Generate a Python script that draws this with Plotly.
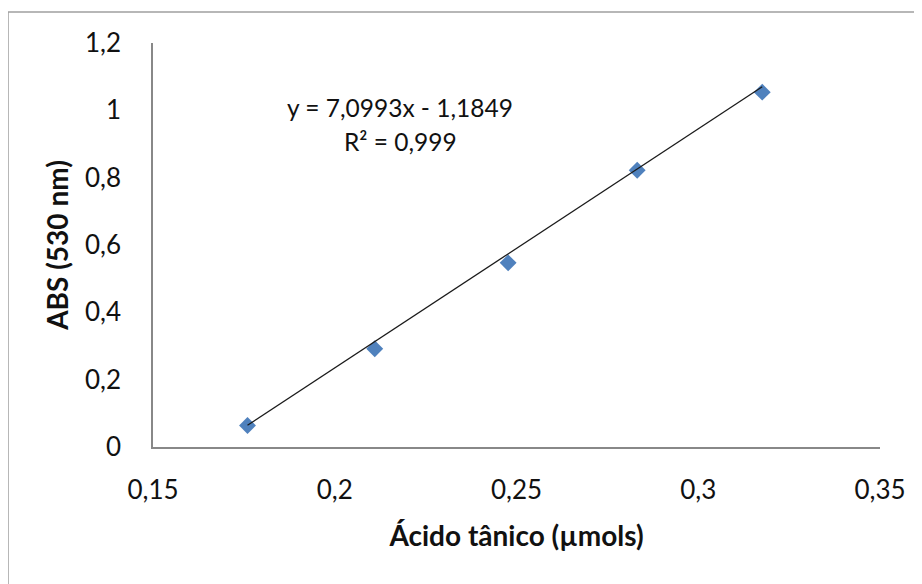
import plotly.graph_objects as go

# Data
acido_tanico = [0.176, 0.211, 0.2477, 0.2832, 0.3176]
absorbancia = [0.064, 0.292, 0.547, 0.822, 1.054]

slope = 7.0993
intercept = -1.1849
r2_text = "0,999"

x_tickvals = [0.15, 0.2, 0.25, 0.3, 0.35]
x_ticktext = ["0,15", "0,2", "0,25", "0,3", "0,35"]
y_tickvals = [0, 0.2, 0.4, 0.6, 0.8, 1.0, 1.2]
y_ticktext = ["0", "0,2", "0,4", "0,6", "0,8", "1", "1,2"]

trend_x = [min(acido_tanico), max(acido_tanico)]
trend_y = [slope * v + intercept for v in trend_x]

FONT = "Lato, Calibri, 'DejaVu Sans', sans-serif"

# plot area in window pixels (page body adds an 8px offset)
PL, PR, PT, PB = 153, 880, 43, 447
PW, PH = PR - PL, PB - PT


def px(xw):
    return (xw - PL) / PW


def py(yw):
    return (PB - yw) / PH


fig = go.Figure()
fig.add_trace(go.Scatter(
    x=acido_tanico, y=absorbancia, mode="markers",
    marker=dict(symbol="diamond", size=13, color="#4F81BD", line=dict(width=0)),
    showlegend=False, hoverinfo="x+y",
))
fig.add_trace(go.Scatter(
    x=trend_x, y=trend_y, mode="lines",
    line=dict(color="#1a1a1a", width=1.3),
    showlegend=False, hoverinfo="skip",
))

fig.update_layout(
    width=922, height=584,
    margin=dict(l=PL - 8, r=922 - (PR - 8), t=PT - 8, b=584 - (PB - 8)),
    paper_bgcolor="white", plot_bgcolor="white",
    font=dict(family=FONT, size=26, color="#111111"),
    separators=",.",
    xaxis=dict(
        range=[0.15, 0.35], tickvals=x_tickvals, ticktext=x_ticktext,
        showgrid=False, zeroline=False, showline=True, linecolor="#888888", linewidth=1.5,
        ticks="", ticklabelstandoff=19,
        title=dict(text="<b>Ácido tânico (µmols)</b>", font=dict(size=28), standoff=22),
    ),
    yaxis=dict(
        range=[0, 1.2], tickvals=y_tickvals, ticktext=y_ticktext,
        showgrid=False, zeroline=False, showline=True, linecolor="#888888", linewidth=1.5,
        ticks="", ticklabelstandoff=25,
        title=dict(text="<b>ABS (530 nm)</b>", font=dict(size=28), standoff=8),
    ),
    shapes=[
        dict(type="rect", xref="paper", yref="paper",
             x0=px(8), x1=px(940), y0=py(600), y1=py(12),
             line=dict(color="#a0a0a0", width=1.5), fillcolor="rgba(0,0,0,0)", layer="below"),
    ],
)

fig.add_annotation(x=px(400), y=py(107), xref="paper", yref="paper",
                   xanchor="center", yanchor="middle",
                   showarrow=False, font=dict(size=24.5),
                   text=f"y = {slope:.4f}x - {abs(intercept):.4f}".replace(".", ","))
fig.add_annotation(x=px(400), y=py(141), xref="paper", yref="paper",
                   xanchor="center", yanchor="middle",
                   showarrow=False, font=dict(size=24.5),
                   text=f"R² = {r2_text}")

fig.write_html("out.html")
